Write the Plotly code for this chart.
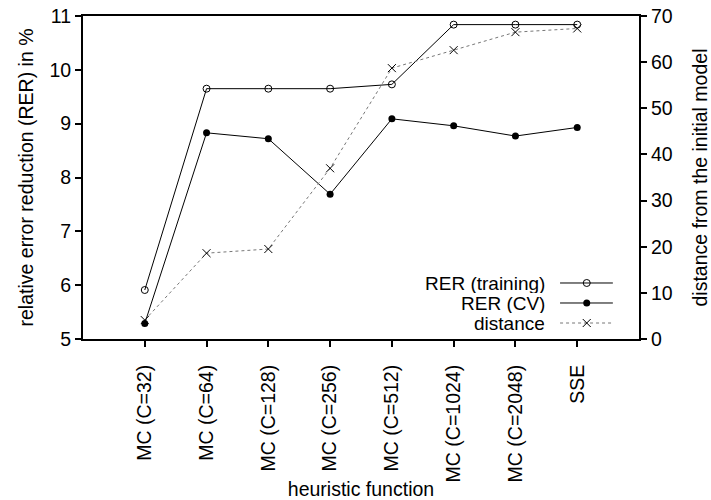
import plotly.graph_objects as go

categories = ["MC (C=32)", "MC (C=64)", "MC (C=128)", "MC (C=256)",
              "MC (C=512)", "MC (C=1024)", "MC (C=2048)", "SSE"]
rer_training = [5.91, 9.65, 9.65, 9.65, 9.73, 10.84, 10.84, 10.84]
rer_cv = [5.29, 8.83, 8.72, 7.69, 9.09, 8.96, 8.77, 8.93]
distance = [4.1, 18.6, 19.5, 37.0, 58.7, 62.6, 66.5, 67.3]
legend_names = ["RER (training)", "RER (CV)", "distance"]

FONT = "Liberation Sans, Arial, sans-serif"
FS = 19.5
LEG_FS = 19

fig = go.Figure()

fig.add_trace(go.Scatter(
    x=categories, y=rer_training, mode="lines+markers", name=legend_names[0],
    line=dict(color="black", width=1),
    marker=dict(symbol="circle-open", size=7, color="black", line=dict(width=1)),
))
fig.add_trace(go.Scatter(
    x=categories, y=rer_cv, mode="lines+markers", name=legend_names[1],
    line=dict(color="black", width=1),
    marker=dict(symbol="circle", size=7, color="black"),
))
fig.add_trace(go.Scatter(
    x=categories, y=distance, mode="lines+markers", name=legend_names[2],
    yaxis="y2",
    line=dict(color="#777777", width=1, dash="dot"),
    marker=dict(symbol="x-thin-open", size=8, color="black", line=dict(width=1, color="black")),
))

# manual legend (text to the left of the sample, like the reference)
leg_y = [0.1734, 0.1115, 0.0495]
x_line0, x_line1, x_mark = 0.858, 0.953, 0.906
styles = [
    dict(line=dict(color="black", width=1), marker=dict(symbol="circle-open", size=7, color="black", line=dict(width=1))),
    dict(line=dict(color="black", width=1), marker=dict(symbol="circle", size=7, color="black")),
    dict(line=dict(color="#777777", width=1, dash="dot"), marker=dict(symbol="x-thin-open", size=8, color="black", line=dict(width=1, color="black"))),
]
for name, yy, st in zip(legend_names, leg_y, styles):
    fig.add_trace(go.Scatter(x=[x_line0, x_line1], y=[yy, yy], mode="lines",
                             line=st["line"], xaxis="x3", yaxis="y3",
                             showlegend=False, hoverinfo="skip"))
    fig.add_trace(go.Scatter(x=[x_mark], y=[yy], mode="markers",
                             marker=st["marker"], xaxis="x3", yaxis="y3",
                             showlegend=False, hoverinfo="skip"))
    fig.add_annotation(x=0.8327, y=yy, xref="paper", yref="paper", text=name,
                       showarrow=False, xanchor="right", yanchor="middle",
                       height=20, valign="middle", borderpad=0,
                       font=dict(family=FONT, size=LEG_FS, color="black"))

axis_common = dict(showline=True, linecolor="black", linewidth=2, ticks="outside",
                   ticklen=6, tickwidth=1.5, tickcolor="black", showgrid=False,
                   zeroline=False, automargin=False,
                   tickfont=dict(family=FONT, size=FS, color="black"))

fig.update_layout(
    width=711, height=500,
    margin=dict(l=83, r=72, t=16, b=161),
    paper_bgcolor="white", plot_bgcolor="white",
    showlegend=False,
    font=dict(family=FONT, size=FS, color="black"),
    xaxis=dict(type="category", categoryorder="array", categoryarray=categories,
               range=[-1, 8], tickangle=-90, mirror=True, ticklabelstandoff=10,
               title=dict(text="heuristic function", font=dict(family=FONT, size=FS), standoff=2),
               **axis_common),
    yaxis=dict(range=[5, 11], dtick=1, mirror=False,
               title=dict(text="relative error reduction (RER) in %", font=dict(family=FONT, size=FS), standoff=11),
               **axis_common),
    yaxis2=dict(range=[0, 70], dtick=10, overlaying="y", side="right",
                title=dict(text="distance from the initial model", font=dict(family=FONT, size=FS), standoff=24),
                **axis_common),
    xaxis3=dict(overlaying="x", range=[0, 1], visible=False, fixedrange=True),
    yaxis3=dict(overlaying="y", range=[0, 1], visible=False, fixedrange=True),
)

fig.write_html("out.html", config={"displayModeBar": False},
               post_script="document.body.style.margin='0px';")
